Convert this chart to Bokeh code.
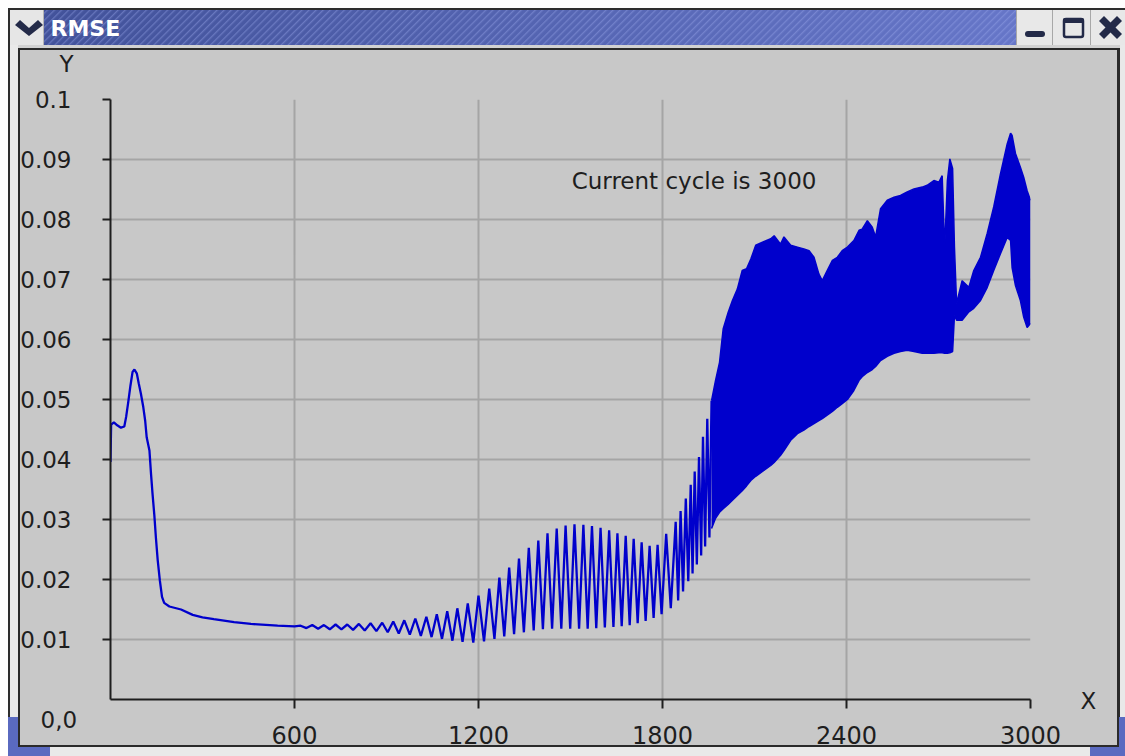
from urllib.parse import quote
from bokeh.plotting import figure
from bokeh.models import Range1d, FixedTicker, Label
from bokeh.embed import file_html
from bokeh.resources import INLINE

# ---------------- data ----------------
smooth_x = [0, 2, 11, 22, 34, 45, 51, 58, 65, 72, 78, 86, 92, 99, 107, 113, 118, 127,
            132, 137, 143, 148, 154, 161, 168, 175, 192, 230, 268, 300, 337, 403, 458, 545, 600]
smooth_y = [0.0396, 0.0458, 0.0462, 0.0457, 0.0453, 0.0455, 0.0471, 0.0496, 0.0523, 0.0546,
            0.0550, 0.0543, 0.0527, 0.0510, 0.0487, 0.0465, 0.0437, 0.0415, 0.0377, 0.0343,
            0.0307, 0.0270, 0.0232, 0.0198, 0.0171, 0.0161, 0.0155, 0.0150, 0.0141, 0.0137,
            0.0134, 0.0129, 0.0126, 0.0123, 0.0122]

peak_x = [620, 658, 696, 734, 772, 810, 848, 886, 922, 958, 994, 1030, 1064, 1098,
          1131, 1165, 1200, 1235, 1268, 1300, 1332, 1364, 1395, 1425,
          1455, 1484, 1513, 1542, 1570, 1598, 1626, 1653, 1680, 1706,
          1732, 1758, 1784, 1812,
          1843, 1859, 1876, 1892, 1905, 1919, 1932, 1946, 1960]
peak_y = [0.0123, 0.0124, 0.0124, 0.0125, 0.0125, 0.0126, 0.0127, 0.0128, 0.0130, 0.0132,
          0.0135, 0.0138, 0.0142, 0.0147,
          0.0152, 0.0160, 0.0173, 0.0185, 0.0203, 0.0220, 0.0235, 0.0253, 0.0265, 0.0277,
          0.0285, 0.0290, 0.0292, 0.0291, 0.0289, 0.0286, 0.0282, 0.0277, 0.0273, 0.0268,
          0.0262, 0.0256, 0.0258, 0.0276,
          0.0296, 0.0314, 0.0335, 0.0358, 0.0380, 0.0404, 0.0438, 0.0468, 0.0498]

trough_x = [639, 677, 715, 753, 791, 829, 867, 904, 940, 976, 1012, 1047, 1081, 1115,
            1148, 1183, 1218, 1252, 1284, 1316, 1348, 1380, 1410, 1440,
            1470, 1499, 1528, 1556, 1584, 1612, 1640, 1667, 1693, 1719,
            1745, 1771, 1797, 1827,
            1851, 1867, 1884, 1898, 1912, 1926, 1939, 1953]
trough_y = [0.0119, 0.0118, 0.0117, 0.0117, 0.0116, 0.0115, 0.0114, 0.0112, 0.0110, 0.0108,
            0.0106, 0.0104, 0.0101, 0.0098,
            0.0096, 0.0095, 0.0097, 0.0101, 0.0105, 0.0109, 0.0112, 0.0115, 0.0117, 0.0118,
            0.0118, 0.0118, 0.0118, 0.0118, 0.0119, 0.0120, 0.0121, 0.0122, 0.0124, 0.0127,
            0.0131, 0.0136, 0.0142, 0.0152,
            0.0165, 0.0180, 0.0197, 0.0210, 0.0225, 0.0240, 0.0255, 0.0270]

dense_x = [1960, 1973, 1986, 1998, 2014, 2028, 2044, 2060, 2074, 2088, 2104, 2126, 2153, 2164,
           2185, 2196, 2218, 2240, 2261, 2278, 2294, 2310, 2321, 2337, 2354, 2370, 2386, 2403,
           2424, 2441, 2451, 2468, 2484, 2495, 2511, 2533, 2555, 2576, 2598, 2620, 2647, 2663,
           2685, 2701, 2712, 2720, 2729, 2737, 2746, 2752, 2759, 2777, 2799, 2815, 2837, 2859,
           2880, 2902, 2924, 2935, 2940, 2951, 2967, 2978, 2989, 3000]
dense_hi = [0.0498, 0.0532, 0.0562, 0.0618, 0.0645, 0.0665, 0.0684, 0.0715, 0.0718, 0.0734,
            0.0757, 0.0762, 0.0768, 0.0773, 0.0759, 0.0771, 0.0757, 0.0754, 0.0751, 0.0748,
            0.0737, 0.0709, 0.0698, 0.0715, 0.0732, 0.0737, 0.0748, 0.0754, 0.0765, 0.0782,
            0.0784, 0.0798, 0.0787, 0.0771, 0.0818, 0.0832, 0.0837, 0.0840, 0.0846, 0.0851,
            0.0854, 0.0857, 0.0865, 0.0862, 0.0873, 0.0751, 0.0865, 0.0901, 0.0885, 0.0754,
            0.0660, 0.0698, 0.0687, 0.0715, 0.0737, 0.0777, 0.0821, 0.0876, 0.0926, 0.0944,
            0.0940, 0.0910, 0.0887, 0.0870, 0.0848, 0.0832]
dense_lo = [0.0285, 0.0302, 0.0312, 0.0318, 0.0325, 0.0332, 0.0340, 0.0348, 0.0356, 0.0365,
            0.0372, 0.0380, 0.0390, 0.0395, 0.0407, 0.0415, 0.0432, 0.0443, 0.0449, 0.0455,
            0.0460, 0.0465, 0.0468, 0.0474, 0.0480, 0.0487, 0.0493, 0.0500, 0.0515, 0.0532,
            0.0538, 0.0545, 0.0550, 0.0555, 0.0565, 0.0572, 0.0577, 0.0580, 0.0582, 0.0580,
            0.0577, 0.0577, 0.0577, 0.0578, 0.0578, 0.0577, 0.0577, 0.0578, 0.0580, 0.0640,
            0.0632, 0.0632, 0.0646, 0.0652, 0.0665, 0.0687, 0.0715, 0.0743, 0.0770, 0.0765,
            0.0720, 0.0690, 0.0665, 0.0637, 0.0620, 0.0627]

x_ticks = [600, 1200, 1800, 2400, 3000]
x_tick_labels = ["600", "1200", "1800", "2400", "3000"]
y_ticks = [0.01, 0.02, 0.03, 0.04, 0.05, 0.06, 0.07, 0.08, 0.09, 0.1]
y_tick_labels = ["0.01", "0.02", "0.03", "0.04", "0.05", "0.06", "0.07", "0.08", "0.09", "0.1"]
window_title = "RMSE"
y_name, x_name, origin_text = "Y", "X", "0,0"
note_text = "Current cycle is 3000"
note_x, note_y = 1504, 0.0865

assert len(peak_x) == len(peak_y) and len(trough_x) == len(trough_y)
assert len(dense_x) == len(dense_hi) == len(dense_lo)

# ---------------- styles ----------------
FONT = "DejaVu Sans"
BLUE = "#0000cc"
PANEL = "#c8c8c8"
INK = "#1e1e1e"
GRID = "#a5a5a5"
W, H = 1125, 756

p = figure(width=W, height=H, output_backend="svg", toolbar_location=None,
           x_range=Range1d(0, 3000), y_range=Range1d(0, 0.1),
           min_border_left=110, min_border_right=95, min_border_top=99, min_border_bottom=57)
p.background_fill_color = PANEL
p.border_fill_color = None
p.outline_line_color = None

for ax in (p.xaxis[0], p.yaxis[0]):
    ax.axis_line_color = INK
    ax.axis_line_width = 2
    ax.major_tick_line_color = INK
    ax.major_tick_line_width = 2
    ax.major_tick_in = 0
    ax.minor_tick_in = 0
    ax.minor_tick_out = 0
    ax.major_label_text_font = FONT
    ax.major_label_text_color = INK

p.xaxis.ticker = FixedTicker(ticks=x_ticks)
p.xaxis.major_label_overrides = dict(zip(x_ticks, x_tick_labels))
p.xaxis.major_tick_out = 9
p.xaxis.major_label_standoff = 17
p.xaxis.major_label_text_font_size = "24px"

p.yaxis.ticker = FixedTicker(ticks=y_ticks)
p.yaxis.major_label_overrides = dict(zip(y_ticks, y_tick_labels))
p.yaxis.major_tick_out = 8
p.yaxis.major_label_standoff = 31
p.yaxis.major_label_text_font_size = "23px"

p.xgrid.grid_line_color = GRID
p.xgrid.grid_line_width = 2
p.ygrid.grid_line_color = GRID
p.ygrid.grid_line_width = 2

# data marks
pts = sorted(zip(peak_x + trough_x, peak_y + trough_y))
curve_x = smooth_x + [q[0] for q in pts]
curve_y = smooth_y + [q[1] for q in pts]
p.line(curve_x, curve_y, line_color=BLUE, line_width=2.3)
p.varea(x=dense_x, y1=dense_lo, y2=dense_hi, fill_color=BLUE)
p.line(dense_x, dense_hi, line_color=BLUE, line_width=1.5)
p.line(dense_x, dense_lo, line_color=BLUE, line_width=1.5)

p.add_layout(Label(x=note_x, y=note_y, text=note_text, text_font=FONT, text_font_size="23px",
                   text_color=INK, text_align="left", text_baseline="middle"))

# ---------------- window chrome: painted behind the transparent border ----------------
def R(x, y, w, h, c, extra=""):
    return f'<rect x="{x}" y="{y}" width="{w}" height="{h}" fill="{c}" {extra}/>'

NAVY = "#232a48"
parts = [
    '<svg xmlns="http://www.w3.org/2000/svg" width="1125" height="756">',
    '<defs>'
    '<linearGradient id="g" x1="0" y1="0" x2="1" y2="0">'
    '<stop offset="0" stop-color="#42529a"/><stop offset="1" stop-color="#6676c8"/></linearGradient>'
    '<pattern id="h" width="5" height="5" patternUnits="userSpaceOnUse" patternTransform="rotate(45)">'
    '<rect x="0" y="0" width="1.3" height="5" fill="#9aa8ea" fill-opacity="0.4"/></pattern>'
    '</defs>',
    R(0, 0, 1125, 756, "#ffffff"),
    R(8, 8, 1117, 2, "#2e2e2e"),
    R(8, 8, 2, 748, "#2e2e2e"),
    R(44, 10, 973, 35, "url(#g)"),
    R(44, 10, 973, 35, "url(#h)"),
    R(10, 45, 1115, 3, "#d2d2d2"),
    R(10, 45, 8, 711, "#e9e9e9"),
    R(1120, 45, 5, 711, "#e9e9e9"),
    R(10, 747, 1115, 9, "#e9e9e9"),
    R(20, 50, 1097, 695, PANEL),
    R(18, 48, 1102, 2, "#2a2a2a"),
    R(18, 48, 2, 699, "#2a2a2a"),
    R(1117, 48, 3, 699, "#2a2a2a"),
    R(18, 745, 1102, 2, "#2a2a2a"),
    R(8, 717, 10, 39, "#5a6ac0"),
    R(8, 747, 42, 9, "#5a6ac0"),
    R(1119, 717, 6, 39, "#5a6ac0"),
    R(1090, 747, 35, 9, "#5a6ac0"),
    # menu button
    R(10, 10, 34, 35, "#e6e6e6"),
    R(43, 10, 1, 35, "#b4b4b4"),
    f'<polygon points="15,25 20,20 29,28 38,20 43,25 29,36" fill="{NAVY}"/>',
    # right buttons
    R(1017, 10, 35, 35, "#e8e8e8"), R(1016, 10, 1, 35, "#a8a8a8"),
    R(1053, 10, 37, 35, "#e8e8e8"), R(1052, 10, 1, 35, "#a8a8a8"),
    R(1091, 10, 34, 35, "#e8e8e8"), R(1090, 10, 1, 35, "#a8a8a8"),
    R(1025, 31, 20, 6, NAVY, 'rx="3"'),
    f'<rect x="1064" y="19" width="19" height="18" rx="2" fill="none" stroke="{NAVY}" stroke-width="2.5"/>',
    R(1063, 18, 21, 5, NAVY, 'rx="2"'),
    f'<polygon points="1099,21 1104,16 1122,34 1117,39" fill="{NAVY}"/>',
    f'<polygon points="1117,16 1122,21 1104,39 1099,34" fill="{NAVY}"/>',
    '</svg>',
]
svg = "".join(parts)
p.styles = {
    "background-image": f'url("data:image/svg+xml,{quote(svg)}")',
    "background-repeat": "no-repeat",
    "background-size": "1125px 756px",
}

# ---------------- texts outside the plot area (side-panel labels, canvas coords) ----------------
def side_label(side, x, y, s, size="23px", color=INK, align="center", style="normal"):
    p.add_layout(Label(x=x, y=y, x_units="canvas", y_units="canvas", text=s,
                       text_font=FONT, text_font_size=size, text_color=color,
                       text_align=align, text_baseline="middle", text_font_style=style), side)

side_label("above", 50, 28, window_title, size="22px", color="#ffffff", align="left", style="bold")
side_label("above", 66, 63, y_name)
side_label("right", 1088, 700, x_name)
side_label("right", 40, 719, origin_text, align="left")

open("out.html", "w").write(file_html(p, INLINE))
